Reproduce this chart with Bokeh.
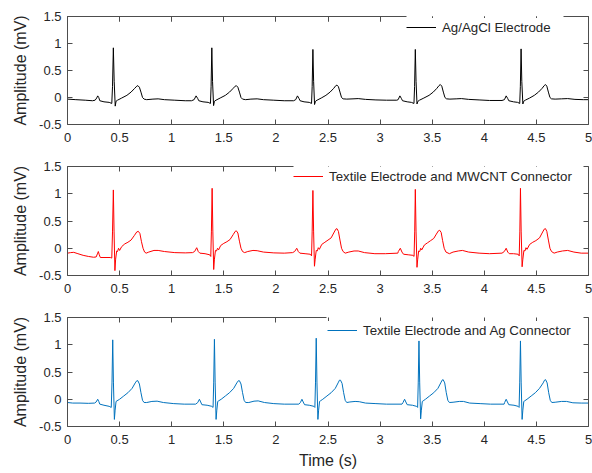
from bokeh.plotting import figure
from bokeh.models import Range1d, LinearAxis, FixedTicker, Legend, LegendItem
from bokeh.layouts import column
from bokeh.embed import file_html
from bokeh.resources import INLINE

# ---------------- data ----------------
x_ticks = [0, 0.5, 1, 1.5, 2, 2.5, 3, 3.5, 4, 4.5, 5]
x_tick_labels = ["0", "0.5", "1", "1.5", "2", "2.5", "3", "3.5", "4", "4.5", "5"]
y_ticks = [-0.5, 0, 0.5, 1, 1.5]
y_tick_labels = ["-0.5", "0", "0.5", "1", "1.5"]
series_labels = ["Ag/AgCl Electrode",
                 "Textile Electrode and MWCNT Connector",
                 "Textile Electrode and Ag Connector"]
x_label = "Time (s)"
y_label = "Amplitude (mV)"

# (time s, amplitude mV)
agagcl = [
    (0.00, -0.03), (0.08, -0.04), (0.17, -0.05), (0.24, -0.06), (0.265, -0.05), (0.28, -0.01), (0.29, 0.03),
    (0.30, 0.0), (0.31, -0.06), (0.35, -0.08), (0.40, -0.09), (0.425, -0.11), (0.432, 0.2), (0.44, 0.92),
    (0.448, 0.3), (0.458, -0.16), (0.466, -0.07), (0.48, -0.05), (0.52, -0.01), (0.57, 0.04), (0.61, 0.1),
    (0.645, 0.17), (0.665, 0.21), (0.675, 0.22), (0.69, 0.19), (0.705, 0.1), (0.72, 0.0), (0.735, -0.03),
    (0.76, -0.04), (0.82, -0.03), (0.87, -0.025), (0.93, -0.04), (1.03, -0.05), (1.13, -0.06), (1.19, -0.06),
    (1.215, -0.04), (1.234, 0.03), (1.25, -0.02), (1.26, -0.06), (1.30, -0.08), (1.35, -0.09), (1.372, -0.11),
    (1.378, 0.2), (1.385, 0.92), (1.392, 0.3), (1.402, -0.15), (1.41, -0.07), (1.425, -0.05), (1.465, -0.01),
    (1.515, 0.04), (1.555, 0.1), (1.59, 0.17), (1.61, 0.21), (1.62, 0.22), (1.635, 0.19), (1.65, 0.1),
    (1.665, 0.0), (1.68, -0.03), (1.71, -0.04), (1.76, -0.03), (1.82, -0.025), (1.88, -0.04), (1.98, -0.05),
    (2.08, -0.06), (2.17, -0.06),
    (2.19, -0.04), (2.207, 0.03), (2.222, -0.02), (2.232, -0.06), (2.27, -0.08), (2.32, -0.09), (2.342, -0.11),
    (2.348, 0.2), (2.355, 0.89), (2.362, 0.3), (2.371, -0.13), (2.38, -0.07), (2.395, -0.05), (2.435, -0.01),
    (2.48, 0.04), (2.52, 0.1), (2.555, 0.17), (2.575, 0.22), (2.586, 0.23), (2.60, 0.2), (2.615, 0.1),
    (2.63, 0.0), (2.645, -0.025), (2.68, -0.03), (2.74, -0.025), (2.79, -0.02), (2.86, -0.035), (2.96, -0.045),
    (3.06, -0.05), (3.16, -0.05),
    (3.173, -0.04), (3.19, 0.03), (3.205, -0.02), (3.215, -0.06), (3.26, -0.08), (3.30, -0.09), (3.325, -0.11),
    (3.331, 0.2), (3.338, 0.89), (3.345, 0.3), (3.354, -0.12), (3.363, -0.07), (3.378, -0.05), (3.42, -0.01),
    (3.47, 0.04), (3.51, 0.1), (3.545, 0.17), (3.565, 0.22), (3.578, 0.24), (3.592, 0.21), (3.607, 0.1),
    (3.622, 0.0), (3.638, -0.025), (3.67, -0.03), (3.73, -0.025), (3.78, -0.02), (3.85, -0.035), (3.95, -0.045),
    (4.05, -0.055), (4.17, -0.055),
    (4.193, -0.04), (4.21, 0.03), (4.225, -0.02), (4.235, -0.06), (4.28, -0.08), (4.32, -0.09), (4.34, -0.11),
    (4.346, 0.2), (4.353, 0.9), (4.36, 0.3), (4.37, -0.12), (4.378, -0.07), (4.393, -0.05), (4.435, -0.01),
    (4.48, 0.04), (4.52, 0.1), (4.555, 0.17), (4.575, 0.22), (4.587, 0.24), (4.60, 0.21), (4.615, 0.1),
    (4.63, 0.0), (4.645, -0.025), (4.68, -0.03), (4.74, -0.025), (4.80, -0.02), (4.87, -0.035), (4.95, -0.04),
    (5.0, -0.04),
]

mwcnt = [
    (0.00, -0.09), (0.03, -0.08), (0.06, -0.075), (0.10, -0.1), (0.15, -0.13), (0.20, -0.15), (0.25, -0.165),
    (0.275, -0.16), (0.29, -0.09), (0.296, -0.06), (0.305, -0.12), (0.315, -0.17), (0.36, -0.17), (0.41, -0.17),
    (0.425, -0.18), (0.432, 0.3), (0.44, 1.07), (0.447, 0.3), (0.455, -0.41), (0.462, -0.2), (0.472, -0.05),
    (0.48, -0.06), (0.49, 0.0), (0.50, -0.04), (0.52, 0.03), (0.55, 0.08), (0.58, 0.11), (0.61, 0.15),
    (0.64, 0.23), (0.665, 0.3), (0.68, 0.31), (0.695, 0.27), (0.71, 0.12), (0.725, 0.0), (0.74, -0.07),
    (0.755, -0.09), (0.78, -0.07), (0.83, -0.04), (0.87, -0.04), (0.93, -0.06), (1.03, -0.08), (1.13, -0.085),
    (1.20, -0.08),
    (1.22, -0.06), (1.24, 0.01), (1.255, -0.06), (1.27, -0.09), (1.32, -0.1), (1.365, -0.12), (1.375, -0.15),
    (1.381, 0.3), (1.388, 1.1), (1.395, 0.3), (1.403, -0.39), (1.41, -0.2), (1.42, -0.04), (1.43, -0.05),
    (1.44, 0.0), (1.45, -0.03), (1.47, 0.05), (1.50, 0.09), (1.53, 0.12), (1.56, 0.16), (1.59, 0.25),
    (1.61, 0.31), (1.62, 0.32), (1.635, 0.28), (1.65, 0.13), (1.665, 0.0), (1.68, -0.06), (1.70, -0.08),
    (1.73, -0.06), (1.78, -0.04), (1.82, -0.045), (1.88, -0.07), (1.98, -0.085), (2.08, -0.09), (2.16, -0.08),
    (2.18, -0.06), (2.2, 0.0), (2.215, -0.06), (2.23, -0.09), (2.28, -0.1), (2.33, -0.11), (2.342, -0.14),
    (2.348, 0.3), (2.355, 1.06), (2.362, 0.3), (2.37, -0.33), (2.377, -0.2), (2.387, -0.04), (2.397, -0.05),
    (2.407, 0.01), (2.417, -0.02), (2.44, 0.07), (2.47, 0.11), (2.50, 0.15), (2.53, 0.19), (2.555, 0.28),
    (2.575, 0.35), (2.586, 0.36), (2.60, 0.31), (2.615, 0.15), (2.63, 0.0), (2.645, -0.06), (2.665, -0.09),
    (2.70, -0.07), (2.75, -0.05), (2.79, -0.05), (2.85, -0.08), (2.95, -0.1), (3.05, -0.1), (3.17, -0.09),
    (3.175, -0.06), (3.194, 0.0), (3.21, -0.07), (3.225, -0.11), (3.27, -0.12), (3.315, -0.13), (3.326, -0.15),
    (3.332, 0.3), (3.338, 1.08), (3.345, 0.3), (3.354, -0.35), (3.361, -0.2), (3.37, -0.05), (3.38, -0.06),
    (3.39, 0.0), (3.40, -0.03), (3.425, 0.06), (3.455, 0.1), (3.485, 0.14), (3.515, 0.18), (3.54, 0.26),
    (3.56, 0.32), (3.572, 0.33), (3.586, 0.29), (3.60, 0.14), (3.615, 0.0), (3.632, -0.07), (3.665, -0.1),
    (3.70, -0.07), (3.75, -0.05), (3.79, -0.04), (3.85, -0.07), (3.95, -0.09), (4.05, -0.1), (4.17, -0.09),
    (4.192, -0.06), (4.21, 0.0), (4.225, -0.07), (4.24, -0.1), (4.28, -0.1), (4.325, -0.11), (4.335, -0.14),
    (4.341, 0.3), (4.347, 1.1), (4.354, 0.3), (4.363, -0.34), (4.37, -0.2), (4.38, -0.04), (4.39, -0.05),
    (4.40, 0.01), (4.41, -0.02), (4.435, 0.07), (4.465, 0.11), (4.495, 0.14), (4.53, 0.19), (4.555, 0.28),
    (4.575, 0.35), (4.587, 0.36), (4.60, 0.31), (4.615, 0.15), (4.63, 0.0), (4.645, -0.06), (4.67, -0.09),
    (4.70, -0.07), (4.75, -0.05), (4.80, -0.04), (4.86, -0.07), (4.93, -0.09), (5.0, -0.09),
]

agconn = [
    (0.00, -0.06), (0.05, -0.07), (0.12, -0.07), (0.20, -0.075), (0.26, -0.07), (0.275, -0.05), (0.29, 0.0),
    (0.30, -0.04), (0.31, -0.09), (0.35, -0.11), (0.40, -0.13), (0.42, -0.15), (0.427, 0.3), (0.434, 1.09),
    (0.441, 0.3), (0.45, -0.37), (0.457, -0.2), (0.466, -0.04), (0.475, -0.03), (0.50, 0.0), (0.54, 0.06),
    (0.58, 0.12), (0.62, 0.2), (0.65, 0.3), (0.665, 0.34), (0.675, 0.34), (0.69, 0.28), (0.705, 0.12),
    (0.72, -0.02), (0.735, -0.06), (0.76, -0.06), (0.81, -0.04), (0.86, -0.035), (0.92, -0.06), (1.02, -0.08),
    (1.12, -0.09), (1.23, -0.09),
    (1.25, -0.06), (1.266, 0.0), (1.278, -0.05), (1.29, -0.1), (1.34, -0.11), (1.385, -0.13), (1.397, -0.15),
    (1.403, 0.3), (1.41, 1.1), (1.417, 0.3), (1.426, -0.37), (1.433, -0.2), (1.442, -0.04), (1.45, -0.03),
    (1.475, 0.0), (1.515, 0.06), (1.555, 0.12), (1.595, 0.2), (1.625, 0.3), (1.64, 0.34), (1.65, 0.34),
    (1.665, 0.28), (1.68, 0.12), (1.695, -0.02), (1.71, -0.06), (1.74, -0.06), (1.79, -0.035), (1.83, -0.03),
    (1.89, -0.06), (1.98, -0.08), (2.08, -0.09), (2.22, -0.09),
    (2.235, -0.06), (2.25, 0.0), (2.262, -0.05), (2.275, -0.1), (2.32, -0.11), (2.365, -0.13), (2.374, -0.15),
    (2.38, 0.3), (2.387, 1.12), (2.394, 0.3), (2.403, -0.37), (2.41, -0.2), (2.419, -0.04), (2.427, -0.03),
    (2.45, 0.0), (2.49, 0.06), (2.53, 0.12), (2.57, 0.2), (2.597, 0.3), (2.61, 0.35), (2.62, 0.35),
    (2.635, 0.29), (2.65, 0.12), (2.665, -0.02), (2.68, -0.06), (2.71, -0.05), (2.76, -0.04), (2.80, -0.045),
    (2.86, -0.07), (2.96, -0.08), (3.06, -0.09), (3.21, -0.09),
    (3.22, -0.06), (3.235, 0.0), (3.247, -0.05), (3.26, -0.1), (3.31, -0.11), (3.35, -0.13), (3.36, -0.15),
    (3.366, 0.3), (3.373, 1.07), (3.38, 0.3), (3.389, -0.36), (3.396, -0.2), (3.405, -0.04), (3.413, -0.03),
    (3.435, 0.0), (3.475, 0.06), (3.515, 0.12), (3.555, 0.2), (3.582, 0.3), (3.595, 0.35), (3.605, 0.36),
    (3.62, 0.3), (3.635, 0.12), (3.65, -0.02), (3.665, -0.06), (3.70, -0.055), (3.76, -0.04), (3.80, -0.04),
    (3.86, -0.07), (3.96, -0.08), (4.06, -0.09), (4.19, -0.09),
    (4.195, -0.06), (4.21, 0.0), (4.222, -0.05), (4.235, -0.1), (4.285, -0.11), (4.325, -0.13), (4.334, -0.15),
    (4.34, 0.3), (4.347, 1.07), (4.354, 0.3), (4.363, -0.37), (4.37, -0.2), (4.379, -0.04), (4.387, -0.03),
    (4.41, 0.0), (4.45, 0.06), (4.49, 0.12), (4.53, 0.2), (4.565, 0.3), (4.578, 0.35), (4.588, 0.36),
    (4.603, 0.3), (4.618, 0.12), (4.633, -0.02), (4.648, -0.06), (4.68, -0.055), (4.74, -0.04), (4.79, -0.04),
    (4.85, -0.065), (4.93, -0.07), (5.0, -0.07),
]

# ---------------- styling ----------------
FONT = "Liberation Sans"
AX_COLOR = "#4d4d4d"
TXT_COLOR = "#262626"


def panel(pts, color, label, height, b_top, b_bottom, leg_xy, top_segments, xlabel=None):
    p = figure(width=592, height=height, x_range=Range1d(0, 5), y_range=Range1d(-0.5, 1.5),
               output_backend="svg", toolbar_location=None,
               min_border_left=67, min_border_right=4,
               min_border_top=b_top, min_border_bottom=b_bottom)
    p.background_fill_color = "white"
    p.border_fill_color = "white"
    p.outline_line_color = None
    p.xgrid.visible = False
    p.ygrid.visible = False

    t = [a for a, _ in pts]
    v = [b for _, b in pts]
    r = p.line(t, v, line_color=color, line_width=1)

    ax_b = p.xaxis[0]
    ax_l = p.yaxis[0]
    ax_r = LinearAxis()
    p.add_layout(ax_r, "right")
    tops = []
    for seg in top_segments:
        ax_t = LinearAxis(bounds=seg)
        p.add_layout(ax_t, "above")
        tops.append(ax_t)

    for ax in [ax_b] + tops:
        ax.ticker = FixedTicker(ticks=x_ticks)
        ax.major_label_overrides = dict(zip(x_ticks, x_tick_labels))
    for ax in (ax_l, ax_r):
        ax.ticker = FixedTicker(ticks=y_ticks)
        ax.major_label_overrides = dict(zip(y_ticks, y_tick_labels))
    for ax in [ax_b, ax_l, ax_r] + tops:
        ax.major_tick_in = 5
        ax.major_tick_out = 0
        ax.minor_tick_line_color = None
        ax.axis_line_color = AX_COLOR
        ax.major_tick_line_color = AX_COLOR
        ax.major_label_text_font = FONT
        ax.major_label_text_font_size = "13px"
        ax.major_label_text_color = TXT_COLOR
        ax.axis_label_text_font = FONT
        ax.axis_label_text_font_size = "16px"
        ax.axis_label_text_font_style = "normal"
        ax.axis_label_text_color = TXT_COLOR
    for ax in [ax_r] + tops:
        # box-style axes: ticks only, no labels drawn
        ax.major_label_text_color = None
        ax.major_label_text_font_size = "1px"
        ax.major_label_standoff = 0
    ax_b.major_label_standoff = 8
    ax_l.major_label_standoff = 6
    ax_l.axis_label = y_label
    ax_l.axis_label_standoff = 7
    if xlabel:
        ax_b.axis_label = xlabel
        ax_b.axis_label_standoff = 5

    leg = Legend(items=[LegendItem(label=label, renderers=[r])], location=leg_xy,
                 background_fill_color="white", background_fill_alpha=1.0,
                 border_line_color=None, padding=5, spacing=0, margin=0,
                 glyph_width=30, glyph_height=18, label_height=18, label_standoff=6,
                 label_text_font=FONT, label_text_font_size="13.3px",
                 label_text_color=TXT_COLOR)
    p.add_layout(leg)
    return p


p1 = panel(agagcl, "#000000", series_labels[0], 159, 16, 35, (339, 88), [(0, 3.25), (4.76, 5)])
p2 = panel(mwcnt, "#ff0000", series_labels[1], 151, 7, 35, (226, 90), [(0, 2.17)])
p3 = panel(agconn, "#0072bd", series_labels[2], 163, 7, 47, (260, 87), [(0, 2.49)], xlabel=x_label)

layout = column(p1, p2, p3, spacing=0)

open("out.html", "w").write(file_html(layout, INLINE))
